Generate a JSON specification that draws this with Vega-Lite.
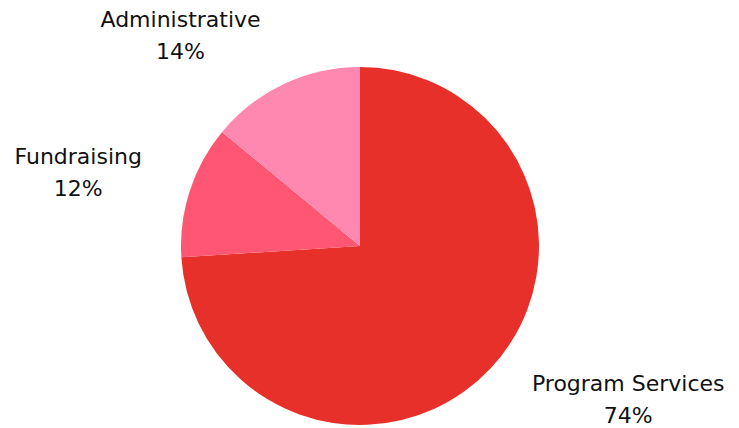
{
  "$schema": "https://vega.github.io/schema/vega-lite/v6.json",
  "width": 720,
  "height": 364,
  "autosize": "none",
  "padding": {"top": 64, "left": 0, "right": 19, "bottom": 0},
  "background": "white",
  "config": {"view": {"stroke": null}},
  "data": {"values": [
    {"category": "Program Services", "value": 74},
    {"category": "Fundraising", "value": 12},
    {"category": "Administrative", "value": 14}
  ]},
  "transform": [{"calculate": "[datum.category, datum.value + '%']", "as": "label"}],
  "encoding": {
    "theta": {"field": "value", "type": "quantitative", "stack": true},
    "order": {"field": "category", "sort": "descending"}
  },
  "layer": [
    {
      "mark": {"type": "arc", "outerRadius": 179},
      "encoding": {
        "color": {"field": "category", "type": "nominal",
          "scale": {"domain": ["Program Services", "Fundraising", "Administrative"], "range": ["#E8302A", "#FF5773", "#FF88B1"]},
          "legend": null}
      }
    },
    {
      "mark": {"type": "text", "radius": 250, "dx": 86, "dy": -33, "font": "DejaVu Sans", "fontSize": 22, "lineHeight": 32, "color": "#111111", "align": "center", "baseline": "middle"},
      "encoding": {"text": {"condition": {"test": "datum.category === 'Program Services'", "field": "label"}, "value": ""}}
    },
    {
      "mark": {"type": "text", "radius": 250, "dx": -44, "dy": -12, "font": "DejaVu Sans", "fontSize": 22, "lineHeight": 32, "color": "#111111", "align": "center", "baseline": "middle"},
      "encoding": {"text": {"condition": {"test": "datum.category === 'Fundraising'", "field": "label"}, "value": ""}}
    },
    {
      "mark": {"type": "text", "radius": 250, "dx": -73, "dy": 0, "font": "DejaVu Sans", "fontSize": 22, "lineHeight": 32, "color": "#111111", "align": "center", "baseline": "middle"},
      "encoding": {"text": {"condition": {"test": "datum.category === 'Administrative'", "field": "label"}, "value": ""}}
    }
  ]
}
